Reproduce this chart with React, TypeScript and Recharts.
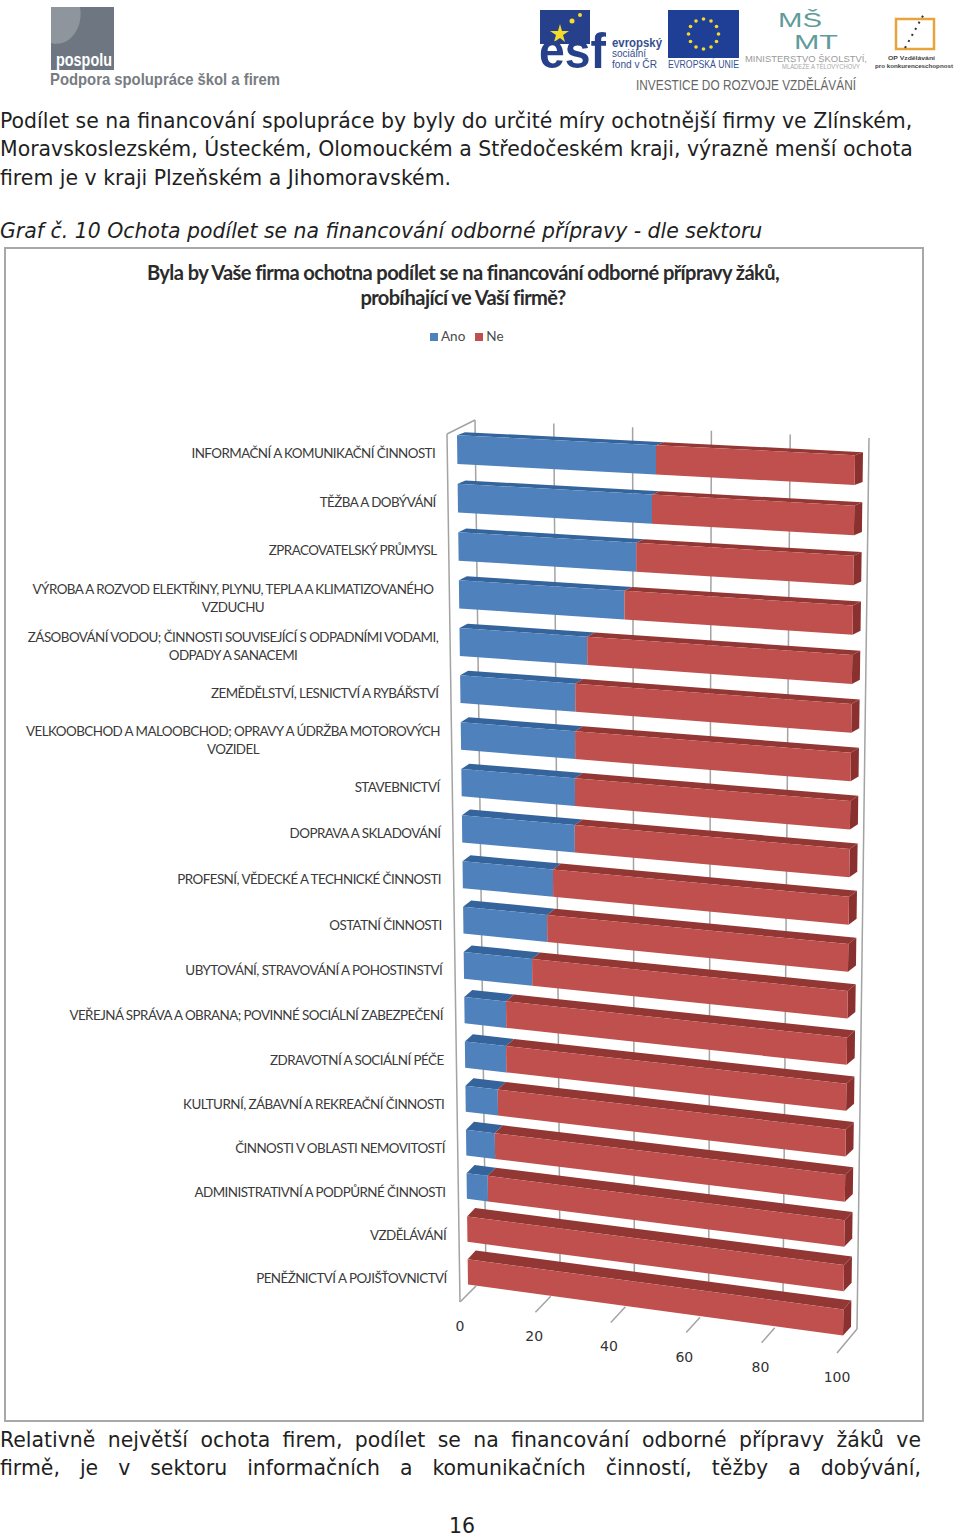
import { BarChart, Bar, XAxis, YAxis, CartesianGrid } from 'recharts'

const categories = [
  'INFORMAČNÍ A KOMUNIKAČNÍ ČINNOSTI',
  'TĚŽBA A DOBÝVÁNÍ',
  'ZPRACOVATELSKÝ PRŮMYSL',
  'VÝROBA A ROZVOD ELEKTŘINY, PLYNU, TEPLA A KLIMATIZOVANÉHO\nVZDUCHU',
  'ZÁSOBOVÁNÍ VODOU; ČINNOSTI SOUVISEJÍCÍ S ODPADNÍMI VODAMI,\nODPADY A SANACEMI',
  'ZEMĚDĚLSTVÍ, LESNICTVÍ A RYBÁŘSTVÍ',
  'VELKOOBCHOD A MALOOBCHOD; OPRAVY A ÚDRŽBA MOTOROVÝCH\nVOZIDEL',
  'STAVEBNICTVÍ',
  'DOPRAVA A SKLADOVÁNÍ',
  'PROFESNÍ, VĚDECKÉ A TECHNICKÉ ČINNOSTI',
  'OSTATNÍ ČINNOSTI',
  'UBYTOVÁNÍ, STRAVOVÁNÍ A POHOSTINSTVÍ',
  'VEŘEJNÁ SPRÁVA A OBRANA; POVINNÉ SOCIÁLNÍ ZABEZPEČENÍ',
  'ZDRAVOTNÍ A SOCIÁLNÍ PÉČE',
  'KULTURNÍ, ZÁBAVNÍ A REKREAČNÍ ČINNOSTI',
  'ČINNOSTI V OBLASTI NEMOVITOSTÍ',
  'ADMINISTRATIVNÍ A PODPŮRNÉ ČINNOSTI',
  'VZDĚLÁVÁNÍ',
  'PENĚŽNICTVÍ A POJIŠŤOVNICTVÍ',
]
const ano = [50, 49, 45, 42, 32.5, 29.4, 29.3, 29.2, 29.1, 23.4, 21.8, 17.8, 10.9, 10.8, 8.5, 7.6, 5.6, 0, 0]
const ne = [50, 51, 55, 58, 67.5, 70.6, 70.7, 70.8, 70.9, 76.6, 78.2, 82.2, 89.1, 89.2, 91.5, 92.4, 94.4, 100, 100]
const xTicks = [0, 20, 40, 60, 80, 100]

const data = categories.map((name, i) => ({ name, ano: ano[i], ne: ne[i] }))

const LABEL_FONT = 'Lato, sans-serif'
const BODY_FONT = '"DejaVu Sans", sans-serif'
const LOGO_FONT = '"Liberation Sans", sans-serif'

// the flat plot rectangle gets bent into the perspective of the old 3D chart
const FLAT = { left: 457, width: 398, top: 435, height: 850 }
const FRONT = { tl: [457, 435], tr: [855, 455], bl: [468, 1285], br: [843, 1336] }
const WALL = { tl: [475, 420], tr: [869, 438], bl: [486, 1276], br: [857, 1329] }
const FLOOR = { l: [460, 1302], r: [837, 1353] }

const mix = (a: number, b: number, t: number) => a + (b - a) * t

function bilinear(q: typeof FRONT, u: number, v: number) {
  const lx = mix(q.tl[0], q.bl[0], v)
  const ly = mix(q.tl[1], q.bl[1], v)
  const rx = mix(q.tr[0], q.br[0], v)
  const ry = mix(q.tr[1], q.br[1], v)
  return [mix(lx, rx, u), mix(ly, ry, u)]
}

function project(x: number, y: number) {
  const u = (x - FLAT.left) / FLAT.width
  const v = (y - FLAT.top) / FLAT.height
  return bilinear(FRONT, u, v + 0.07 * v * (1 - v))
}

const pts = (list: number[][]) => list.map((p) => p.join(',')).join(' ')

function Bar3d(props: any) {
  const { x, y, width, height, fill, topFill, sideFill } = props
  if (!width || width <= 0) return null
  const a = project(x, y)
  const b = project(x + width, y)
  const c = project(x + width, y + height)
  const d = project(x, y + height)
  const v = (y - FLAT.top) / FLAT.height
  const dx = 8
  const dy = -(3 + 6 * v)
  const back = (p: number[]) => [p[0] + dx, p[1] + dy]
  return (
    <g>
      <polygon points={pts([a, b, back(b), back(a)])} fill={topFill} />
      {sideFill && <polygon points={pts([b, back(b), back(c), c])} fill={sideFill} />}
      <polygon points={pts([a, b, c, d])} fill={fill} />
    </g>
  )
}

function CategoryTick(props: any) {
  const { x, y, payload } = props
  const p = project(FLAT.left, y)
  const v = (y - FLAT.top) / FLAT.height
  const lines = String(payload.value).split('\n')
  const style = { fontFamily: LABEL_FONT, fontSize: 13.4, letterSpacing: -0.55, fill: '#3a3a3a' }
  const cy = p[1] + 3 + 3 * v
  if (lines.length > 1) {
    return (
      <g>
        <text x={233} y={cy - 9} dy={5} textAnchor="middle" {...style}>{lines[0]}</text>
        <text x={233} y={cy + 9} dy={5} textAnchor="middle" {...style}>{lines[1]}</text>
      </g>
    )
  }
  return <text x={x - 14 + 12 * v} y={cy} dy={5} textAnchor="end" {...style}>{lines[0]}</text>
}

function ValueTick(props: any) {
  const { payload } = props
  const u = payload.value / 100
  const fx = mix(FLOOR.l[0], FLOOR.r[0], u)
  const fy = mix(FLOOR.l[1], FLOOR.r[1], u)
  const w = bilinear(WALL, u, 1)
  const reach = u === 1 ? 1 : 0.62
  return (
    <g>
      <line x1={fx} y1={fy} x2={mix(fx, w[0], reach)} y2={mix(fy, w[1], reach)} stroke="#a3a3a3" strokeWidth={1.5} />
      <text x={fx - 2 * Math.sin(u * Math.PI)} y={fy + 29} textAnchor="middle" fontFamily={BODY_FONT} fontSize={14} fill="#333">
        {payload.value}
      </text>
    </g>
  )
}

function WallLine(props: any) {
  const u = (props.x1 - FLAT.left) / FLAT.width
  const a = bilinear(WALL, u, 0)
  const b = bilinear(WALL, u, 1)
  return <line x1={a[0]} y1={a[1]} x2={b[0]} y2={b[1]} stroke="#a3a3a3" strokeWidth={1.5} />
}

function FitText({ x, y, w, size, fill, bold, children }: any) {
  return (
    <text
      x={x}
      y={y}
      textLength={w}
      lengthAdjust="spacingAndGlyphs"
      fontFamily={LOGO_FONT}
      fontWeight={bold ? 'bold' : 'normal'}
      fontSize={size}
      fill={fill}
    >
      {children}
    </text>
  )
}

function Logos() {
  const stars = [0, 1, 2, 3, 4, 5, 6, 7, 8, 9, 10, 11]
  return (
    <svg width={960} height={100} style={{ position: 'absolute', left: 0, top: 0 }}>
      <rect x={51} y={7} width={63} height={63} fill="#6d7681" />
      <path d="M51 7h29a24 30 0 0 1-29 36z" fill="#8f959c" />
      <FitText x={56} y={66} w={56} size={18} fill="#fff" bold>pospolu</FitText>
      <FitText x={50} y={85} w={230} size={17} fill="#777c82" bold>Podpora spolupráce škol a firem</FitText>

      <rect x={540} y={10} width={50} height={34} fill="#27408b" />
      <polygon points="560,24 562,31 569,31 563,35 565,42 560,38 554,42 556,35 550,31 558,31" fill="#f4dc2a" />
      <circle cx={572} cy={21} r={2.5} fill="#f4dc2a" />
      <circle cx={580} cy={15} r={2} fill="#f4dc2a" />
      <FitText x={539} y={68} w={67} size={50} fill="#27408b" bold>esf</FitText>
      <FitText x={612} y={47} w={50} size={12} fill="#35508f" bold>evropský</FitText>
      <FitText x={612} y={57} w={34} size={11} fill="#35508f">sociální</FitText>
      <FitText x={612} y={68} w={45} size={11} fill="#35508f">fond v ČR</FitText>

      <rect x={668} y={10} width={71} height={48} fill="#1f3f97" />
      {stars.map((i) => (
        <circle
          key={i}
          cx={703.5 + 15 * Math.sin((i * Math.PI) / 6)}
          cy={34 - 15 * Math.cos((i * Math.PI) / 6)}
          r={1.8}
          fill="#f4dc2a"
        />
      ))}
      <FitText x={668} y={68} w={71} size={11} fill="#35508f">EVROPSKÁ UNIE</FitText>

      <FitText x={778} y={27} w={44} size={20} fill="#5f9c9a">MŠ</FitText>
      <FitText x={794} y={49} w={44} size={20} fill="#5f9c9a">MT</FitText>
      <FitText x={745} y={62} w={122} size={9} fill="#9a9a9a">MINISTERSTVO ŠKOLSTVÍ,</FitText>
      <FitText x={782} y={69} w={78} size={6.5} fill="#a8a8a8">MLÁDEŽE A TĚLOVÝCHOVY</FitText>

      <rect x={896} y={19} width={38} height={30} fill="none" stroke="#e8a33d" strokeWidth={2.5} />
      <line x1={905} y1={48} x2={925} y2={12} stroke="#333" strokeWidth={2} strokeDasharray="2 5" />
      <FitText x={888} y={60} w={47} size={6} fill="#444" bold>OP Vzdělávání</FitText>
      <FitText x={875} y={68} w={78} size={6} fill="#444" bold>pro konkurenceschopnost</FitText>

      <FitText x={636} y={90} w={220} size={15} fill="#666">INVESTICE DO ROZVOJE VZDĚLÁVÁNÍ</FitText>
    </svg>
  )
}

const lineStyle: any = {
  position: 'absolute',
  left: 0,
  fontFamily: BODY_FONT,
  fontSize: 20.45,
  lineHeight: '24px',
  color: '#1f1f1f',
  whiteSpace: 'nowrap',
}

function PageText({ y, text, italic, justify }: { y: number; text: string; italic?: boolean; justify?: boolean }) {
  return (
    <div
      style={{
        ...lineStyle,
        top: y - 12,
        fontStyle: italic ? 'italic' : 'normal',
        width: justify ? 921 : undefined,
        whiteSpace: justify ? 'normal' : 'nowrap',
        textAlign: justify ? 'justify' : 'left',
        textAlignLast: justify ? 'justify' : 'auto',
      }}
    >
      {text}
    </div>
  )
}

export default function App() {
  return (
    <div style={{ position: 'absolute', left: 0, top: 0, width: 960, height: 1538, background: '#fff', overflow: 'hidden' }}>
      <Logos />
      <PageText y={121} text="Podílet se na financování spolupráce by byly do určité míry ochotnější firmy ve Zlínském," />
      <PageText y={149} text="Moravskoslezském, Ústeckém, Olomouckém a Středočeském kraji, výrazně menší ochota" />
      <PageText y={178} text="firem je v kraji Plzeňském a Jihomoravském." />
      <PageText y={231} italic text="Graf č. 10 Ochota podílet se na financování odborné přípravy - dle sektoru" />

      <div style={{ position: 'absolute', left: 4, top: 247, width: 916, height: 1171, border: '2px solid #a8a8a8' }} />

      <div style={{ position: 'absolute', left: 0, top: 260, width: 926, textAlign: 'center', fontFamily: LABEL_FONT, fontWeight: 700, fontSize: 20.1, letterSpacing: -0.6, lineHeight: '25px', color: '#2b2b2b' }}>
        Byla by Vaše firma ochotna podílet se na financování odborné přípravy žáků,
        <br />
        probíhající ve Vaší firmě?
      </div>

      <div style={{ position: 'absolute', left: 430, top: 327, fontFamily: LABEL_FONT, fontSize: 13.5, lineHeight: '18px', color: '#4a4a4a', whiteSpace: 'nowrap' }}>
        <span style={{ display: 'inline-block', width: 8, height: 8, background: '#4f81bd', marginRight: 3 }} />
        Ano
        <span style={{ display: 'inline-block', width: 8, height: 8, background: '#c0504d', margin: '0 3px 0 10px' }} />
        Ne
      </div>

      <div style={{ position: 'absolute', left: 0, top: 0 }}>
        <BarChart
          width={960}
          height={1538}
          layout="vertical"
          data={data}
          barCategoryGap="20%"
          margin={{ top: 426, right: 105, bottom: 214, left: 0 }}
        >
          <CartesianGrid horizontal={false} vertical={(p: any) => <WallLine key={p.key} {...p} />} />
          <XAxis
            type="number"
            domain={[0, 100]}
            ticks={xTicks}
            height={30}
            axisLine={false}
            tickLine={false}
            interval={0}
            tick={<ValueTick />}
          />
          <YAxis
            type="category"
            dataKey="name"
            width={457}
            axisLine={false}
            tickLine={false}
            interval={0}
            tick={<CategoryTick />}
          />
          <polyline points="447,434 475,420" fill="none" stroke="#a3a3a3" strokeWidth={1.5} />
          <polyline points="447,434 460,1302" fill="none" stroke="#a3a3a3" strokeWidth={1.5} />
          <Bar
            dataKey="ano"
            stackId="a"
            isAnimationActive={false}
            fill="#4f81bd"
            shape={(p: any) => <Bar3d {...p} topFill="#35649c" />}
          />
          <Bar
            dataKey="ne"
            stackId="a"
            isAnimationActive={false}
            fill="#c0504d"
            shape={(p: any) => <Bar3d {...p} topFill="#933734" sideFill="#8a302e" />}
          />
        </BarChart>
      </div>

      <PageText y={1440} justify text="Relativně největší ochota firem, podílet se na financování odborné přípravy žáků ve" />
      <PageText y={1468} justify text="firmě, je v sektoru informačních a komunikačních činností, těžby a dobývání," />
      <div style={{ ...lineStyle, left: 449, top: 1516, lineHeight: '20px', height: 20 }}>16</div>
    </div>
  )
}
